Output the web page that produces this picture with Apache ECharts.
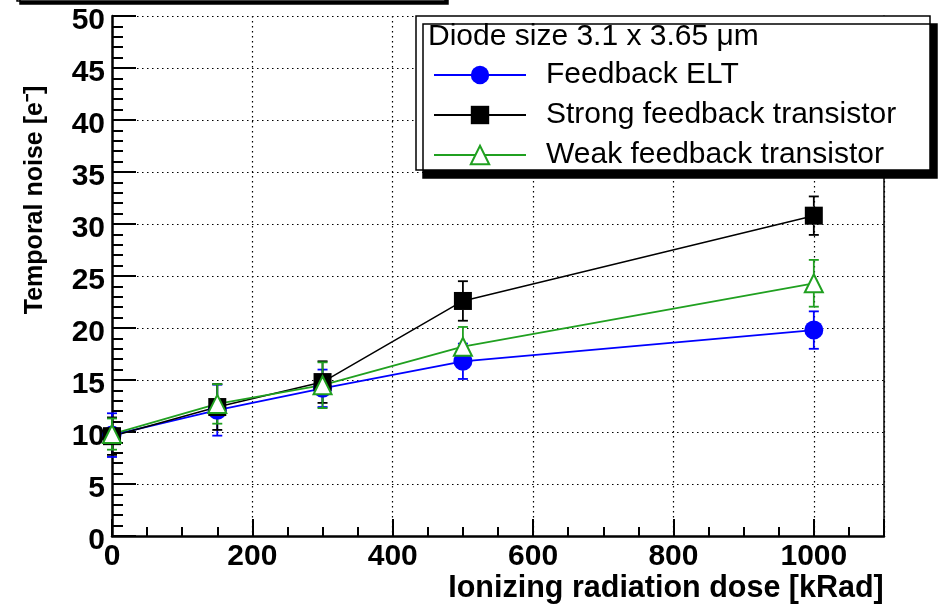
<!DOCTYPE html>
<html>
<head>
<meta charset="utf-8">
<script src="https://cdn.jsdelivr.net/npm/echarts@6/dist/echarts.min.js"></script>
<style>
  html, body { margin: 0; padding: 0; background: #fff; }
  #chart { width: 942px; height: 606px; }
</style>
</head>
<body>
<div id="chart"></div>
<script>
// dose points [kRad]
var doses = [0, 150, 300, 500, 1000];

// temporal noise [e-] and errors
var eltNoise = [9.7, 12.1, 14.2, 16.8, 19.8];
var eltErr = [2.1, 2.45, 1.8, 1.7, 1.8];
var strongNoise = [9.6, 12.4, 14.8, 22.6, 30.8];
var strongErr = [1.8, 2.2, 2.0, 1.9, 1.85];
var weakNoise = [9.8, 12.7, 14.5, 18.2, 24.3];
var weakErr = [1.5, 1.9, 2.2, 1.9, 2.25];

var seriesNames = ['Feedback ELT', 'Strong feedback transistor', 'Weak feedback transistor'];
var legendTitle = 'Diode size 3.1 x 3.65 \u03bcm';

var FONT = '"Liberation Sans", Arial, sans-serif';

function points(ys) {
  return doses.map(function (d, i) { return [d, ys[i]]; });
}
function errPoints(ys, es) {
  return doses.map(function (d, i) { return [d, ys[i], es[i]]; });
}

// vertical error bar with caps, gap left around the marker like ROOT does
function errorBar(color) {
  return function (params, api) {
    var x = api.value(0), y = api.value(1), e = api.value(2);
    var c = api.coord([x, y]);
    var top = api.coord([x, y + e]);
    var bot = api.coord([x, y - e]);
    var gap = 9, cap = 5;
    var style = { stroke: color, lineWidth: 1.8 };
    var kids = [];
    if (c[1] - top[1] > gap) {
      kids.push({ type: 'line', shape: { x1: c[0], y1: c[1] - gap, x2: top[0], y2: top[1] }, style: style });
    }
    if (bot[1] - c[1] > gap) {
      kids.push({ type: 'line', shape: { x1: c[0], y1: c[1] + gap, x2: bot[0], y2: bot[1] }, style: style });
    }
    kids.push({ type: 'line', shape: { x1: top[0] - cap, y1: top[1], x2: top[0] + cap, y2: top[1] }, style: style });
    kids.push({ type: 'line', shape: { x1: bot[0] - cap, y1: bot[1], x2: bot[0] + cap, y2: bot[1] }, style: style });
    return { type: 'group', children: kids };
  };
}

var blue = '#0000ff', black = '#000000', green = '#20a020';

var chart = echarts.init(document.getElementById('chart'), null, { renderer: 'canvas' });

var option = {
  backgroundColor: '#ffffff',
  animation: false,
  grid: { left: 112, right: 58, top: 16, bottom: 70, outerBoundsMode: 'none', containLabel: false },
  legend: {
    data: seriesNames,
    orient: 'vertical',
    left: 433,
    top: 60,
    padding: 0,
    itemWidth: 92,
    itemHeight: 23,
    itemGap: 10,
    z: 20,
    selectedMode: false,
    textStyle: { fontFamily: FONT, fontSize: 30, color: '#000', lineHeight: 30, padding: [0, 0, 0, 15] }
  },
  graphic: [
    // bottom edge of the cut-off title box
    {
      type: 'rect', z: 10,
      shape: { x: 17, y: -30, width: 428, height: 31 },
      style: { fill: '#fff', stroke: '#000', lineWidth: 1.5, shadowColor: '#000', shadowOffsetX: 3, shadowOffsetY: 3, shadowBlur: 0 }
    },
    // legend box
    {
      type: 'rect', z: 10,
      shape: { x: 416, y: 16, width: 514, height: 154 },
      style: { fill: '#fff', stroke: '#000', lineWidth: 1.5, shadowColor: '#000', shadowOffsetX: 7, shadowOffsetY: 8, shadowBlur: 0 }
    },
    {
      type: 'text', z: 20, left: 428, top: 22,
      style: { text: legendTitle, fontFamily: FONT, fontSize: 30, fill: '#000' }
    }
  ],
  xAxis: {
    type: 'value',
    min: 0,
    max: 1100,
    interval: 200,
    name: 'Ionizing radiation dose [kRad]',
    nameLocation: 'middle',
    nameGap: 37,
    nameMoveOverlap: false,
    nameTextStyle: { fontFamily: FONT, fontSize: 30.5, fontWeight: 'bold', color: '#000', padding: [0, 0, 0, 336] },
    axisLine: { onZero: false, lineStyle: { color: '#000', width: 2.5 } },
    axisTick: { inside: true, length: 17, lineStyle: { color: '#000', width: 2 } },
    minorTick: { show: true, splitNumber: 4, length: 9, lineStyle: { color: '#000', width: 2 } },
    axisLabel: {
      margin: 6, fontFamily: FONT, fontSize: 30, fontWeight: 'bold', color: '#000',
      formatter: function (v) { return v > 1000 ? '' : String(v); }
    },
    splitLine: { show: true, lineStyle: { color: '#000', width: 1.2, type: [1.5, 3.5] } }
  },
  yAxis: [{
    type: 'value',
    min: 0,
    max: 50,
    interval: 5,
    name: 'Temporal noise [e\u207b]',
    nameLocation: 'middle',
    nameGap: 64,
    nameMoveOverlap: false,
    nameTextStyle: { fontFamily: FONT, fontSize: 25, fontWeight: 'bold', color: '#000', padding: [0, 0, 0, 152] },
    axisLine: { show: true, onZero: false, lineStyle: { color: '#000', width: 2.5 } },
    axisTick: { inside: true, length: 24, lineStyle: { color: '#000', width: 2 } },
    minorTick: { show: true, splitNumber: 5, length: 11, lineStyle: { color: '#000', width: 2 } },
    axisLabel: { margin: 7, fontFamily: FONT, fontSize: 30, fontWeight: 'bold', color: '#000', verticalAlign: 'top', lineHeight: 10 },
    splitLine: { show: true, lineStyle: { color: '#000', width: 1.2, type: [1.5, 3.5] } }
  }, {
    // right frame line
    type: 'value', position: 'right', min: 0, max: 50,
    axisLine: { show: true, onZero: false, lineStyle: { color: '#000', width: 1.5 } },
    axisTick: { show: false }, axisLabel: { show: false }, splitLine: { show: false }
  }],
  series: [
    {
      name: 'eltErr', type: 'custom', renderItem: errorBar(blue),
      data: errPoints(eltNoise, eltErr), encode: { x: 0, y: 1 }, silent: true
    },
    {
      name: seriesNames[0], type: 'line', data: points(eltNoise),
      symbol: 'circle', symbolSize: 19,
      itemStyle: { color: blue },
      lineStyle: { color: blue, width: 1.8 }
    },
    {
      name: 'strongErr', type: 'custom', renderItem: errorBar(black),
      data: errPoints(strongNoise, strongErr), encode: { x: 0, y: 1 }, silent: true
    },
    {
      name: seriesNames[1], type: 'line', data: points(strongNoise),
      symbol: 'rect', symbolSize: 18,
      itemStyle: { color: black },
      lineStyle: { color: black, width: 1.5 }
    },
    {
      name: 'weakErr', type: 'custom', renderItem: errorBar(green),
      data: errPoints(weakNoise, weakErr), encode: { x: 0, y: 1 }, silent: true
    },
    {
      name: seriesNames[2], type: 'line', data: points(weakNoise),
      symbol: 'emptyTriangle', symbolSize: 18,
      itemStyle: { color: green, borderColor: green, borderWidth: 1.8 },
      lineStyle: { color: green, width: 1.8 }
    }
  ]
};

chart.setOption(option);
</script>
</body>
</html>
